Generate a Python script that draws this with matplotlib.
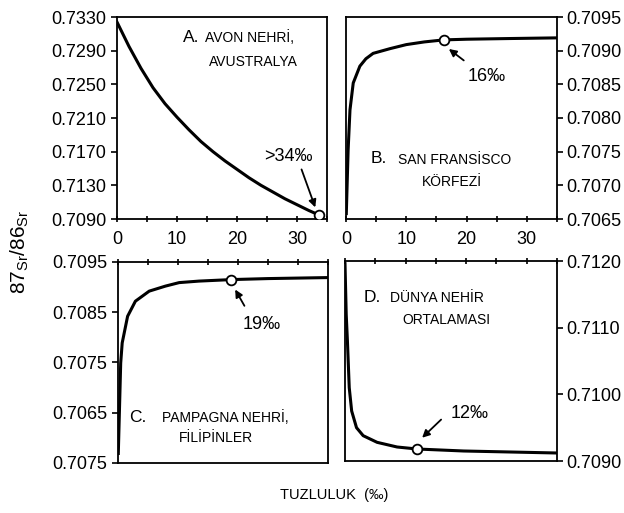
import matplotlib.pyplot as plt
from matplotlib.ticker import MultipleLocator

plt.rcParams['font.family'] = 'Liberation Sans'
plt.rcParams['mathtext.fontset'] = 'custom'
plt.rcParams['mathtext.rm'] = 'Liberation Sans'

# salinity (per mil) vs 87Sr/86Sr mixing curves for four estuaries
a_x = [0, 2, 4, 6, 8, 10, 12, 14, 16, 18, 20, 22, 24, 26, 28, 30, 32, 33.6]
a_y = [0.7324, 0.7295, 0.7269, 0.7246, 0.7227, 0.7211, 0.7196, 0.7182,
       0.7170, 0.7159, 0.7149, 0.7139, 0.7130, 0.7122, 0.7114, 0.7107,
       0.7100, 0.7095]

b_x = [0.05, 0.35, 0.66, 1.2, 2.3, 3.3, 4.5, 7.3, 10, 13, 16.2, 20, 27, 35]
b_y = [0.70658, 0.70752, 0.70812, 0.70852, 0.70877, 0.70888, 0.70896,
       0.70903, 0.70909, 0.70913, 0.70916, 0.70917, 0.70918, 0.70919]

c_x = [0.05, 0.45, 0.7, 1.6, 2.9, 5.2, 7.9, 10.2, 13.5, 18.9, 25, 35]
c_y = [0.70569, 0.70749, 0.70789, 0.70842, 0.70872, 0.70892, 0.70902,
       0.70909, 0.70912, 0.70915, 0.70917, 0.70919]

d_x = [0.0, 0.2, 0.4, 0.7, 1.1, 1.9, 3.0, 5.3, 8.6, 11.9, 19.6, 35]
d_y = [0.71196, 0.71120, 0.71080, 0.71010, 0.70975, 0.70950, 0.70938,
       0.70928, 0.70921, 0.70918, 0.70915, 0.70912]

# marked points on each curve
a_pt = (33.6, 0.7095)
b_pt = (16.2, 0.70916)
c_pt = (18.9, 0.70915)
d_pt = (11.9, 0.70918)

a_ticks = [0.7090, 0.7130, 0.7170, 0.7210, 0.7250, 0.7290, 0.7330]
b_ticks = [0.7065, 0.7070, 0.7075, 0.7080, 0.7085, 0.7090, 0.7095]
c_ticks = [0.7055, 0.7065, 0.7075, 0.7085, 0.7095]
c_labels = ['0.7075', '0.7065', '0.7075', '0.7085', '0.7095']
d_ticks = [0.7090, 0.7100, 0.7110, 0.7120]

fig = plt.figure(figsize=(6.24, 5.13), dpi=100)
W, H = 624, 513


def add_axes(l, t, r, b):
    return fig.add_axes([l / W, 1 - b / H, (r - l) / W, (b - t) / H])


axA = add_axes(117, 17, 327, 219)
axB = add_axes(346, 17, 557, 219)
axC = add_axes(118, 262, 328, 463)
axD = add_axes(345, 261, 557, 461)

lw = 2.2
axA.plot(a_x, a_y, color='black', lw=lw)
axB.plot(b_x, b_y, color='black', lw=lw)
axC.plot(c_x, c_y, color='black', lw=lw)
axD.plot(d_x, d_y, color='black', lw=lw)

for ax, pt in [(axA, a_pt), (axB, b_pt), (axC, c_pt), (axD, d_pt)]:
    ax.plot(*pt, 'o', ms=7, mfc='white', mec='black', mew=1.3, zorder=5)

axA.set_ylim(0.7090, 0.7330)
axB.set_ylim(0.7065, 0.7095)
axC.set_ylim(0.7055, 0.7095)
axD.set_ylim(0.7090, 0.7120)

axA.set_yticks(a_ticks)
axA.set_yticklabels([f'{v:.4f}' for v in a_ticks])
axB.set_yticks(b_ticks)
axB.set_yticklabels([f'{v:.4f}' for v in b_ticks])
axC.set_yticks(c_ticks)
axC.set_yticklabels(c_labels)
axD.set_yticks(d_ticks)
axD.set_yticklabels([f'{v:.4f}' for v in d_ticks])

for ax in (axB, axD):
    ax.yaxis.tick_right()

for ax in (axA, axB, axC, axD):
    ax.set_xlim(0, 35)
    ax.xaxis.set_major_locator(MultipleLocator(10))
    ax.xaxis.set_minor_locator(MultipleLocator(5))
    for s in ax.spines.values():
        s.set_linewidth(1.3)
    ax.tick_params(axis='y', direction='out', length=4, width=1.2,
                   labelsize=13, pad=3.5)
    ax.tick_params(axis='x', which='both', direction='inout', length=4,
                   width=1.2, labelsize=13, pad=7)

for ax in (axB, axD):
    ax.tick_params(axis='y', pad=2.5)

for ax in (axC, axD):
    ax.xaxis.tick_top()
    ax.tick_params(axis='x', labeltop=False)

# arrows and salinity labels
arrow = dict(arrowstyle='-|>', color='black', lw=1.3, mutation_scale=11)
axA.annotate('', xy=(33.2, 0.71007), xytext=(30.6, 0.7152), arrowprops=arrow)
axA.text(28.6, 0.71637, '>34‰', fontsize=13, ha='center', va='center')
axB.annotate('', xy=(16.7, 0.70905), xytext=(19.9, 0.70883), arrowprops=arrow)
axB.text(23.4, 0.70861, '16‰', fontsize=13, ha='center', va='center')
axC.annotate('', xy=(19.3, 0.7090), xytext=(21.3, 0.70858), arrowprops=arrow)
axC.text(24.0, 0.70825, '19‰', fontsize=13, ha='center', va='center')
axD.annotate('', xy=(12.4, 0.70932), xytext=(16.2, 0.70965), arrowprops=arrow)
axD.text(20.6, 0.70972, '12‰', fontsize=13, ha='center', va='center')


def px_text(x, y, s, size, ha='left'):
    fig.text(x / W, 1 - y / H, s, fontsize=size, ha=ha, va='center')


big, small = 12.5, 10
px_text(199, 37, 'A.', big, ha='right')
px_text(205, 38, 'AVON NEHRİ,', small)
px_text(253, 62, 'AVUSTRALYA', small, ha='center')
px_text(387, 159, 'B.', big, ha='right')
px_text(398, 160, 'SAN FRANSİSCO', small)
px_text(452, 182, 'KÖRFEZİ', small, ha='center')
px_text(147, 417, 'C.', big, ha='right')
px_text(162, 418, 'PAMPAGNA NEHRİ,', small)
px_text(216, 438, 'FİLİPİNLER', small, ha='center')
px_text(381, 297, 'D.', big, ha='right')
px_text(390, 298, 'DÜNYA NEHİR', small)
px_text(446, 320, 'ORTALAMASI', small, ha='center')

fig.text(20 / W, 1 - 252 / H, r'87$_{\rm Sr}$/86$_{\rm Sr}$', fontsize=15,
         rotation=90, ha='center', va='center')
fig.text(334 / W, 1 - 495 / H, 'TUZLULUK  (‰)', fontsize=10.5,
         ha='center', va='center')

fig.savefig('out.png', dpi=100)
